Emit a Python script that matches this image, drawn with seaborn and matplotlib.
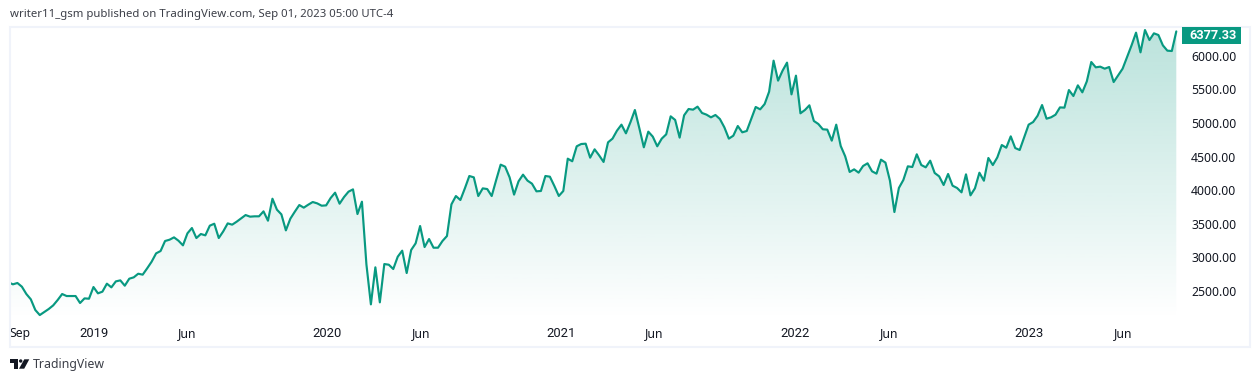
import numpy as np
import pandas as pd
import matplotlib
matplotlib.use("Agg")
import matplotlib.pyplot as plt
import matplotlib.dates as mdates
from matplotlib.patches import Rectangle, Polygon, Circle
import seaborn as sns

closes_2018_2019 = [
    2644, 2614, 2634, 2579, 2470, 2391, 2232, 2157, 2202, 2247, 2301, 2381, 2470, 2440, 2440, 2440,
    2336, 2405, 2400, 2574, 2480, 2505, 2624, 2569, 2658, 2673, 2594, 2698, 2718, 2772, 2758, 2852,
    2951, 3075, 3110, 3259, 3278, 3313, 3263, 3194, 3373, 3452, 3303, 3363, 3343, 3487, 3516, 3303,
    3402, 3521, 3502, 3546, 3596, 3645, 3621, 3626, 3626, 3700, 3561, 3888, 3725, 3655, 3417, 3591,
    3695, 3794, 3755, 3799, 3839, 3819, 3784, 3789, 3898, 3978, 3814, 3913, 3993, 4027,
]
closes_2020_2021 = [
    3660, 3844, 2911, 2316, 2867, 2346, 2916, 2906, 2842, 3025, 3115, 2782, 3125, 3224, 3482, 3169,
    3288, 3159, 3159, 3259, 3333, 3804, 3928, 3869, 4042, 4226, 4206, 3928, 4042, 4032, 3928, 4166,
    4395, 4365, 4206, 3949, 4147, 4246, 4157, 4112, 3998, 4003, 4226, 4216, 4078, 3929, 4003, 4484,
    4445, 4668, 4702, 4707, 4499, 4623, 4534, 4435, 4727, 4782, 4901, 4990, 4861, 5025, 5208, 4936,
    4653, 4886, 4812, 4668, 4782, 4846, 5114, 5060, 4797, 5129, 5223, 5213, 5258, 5164, 5139, 5099,
    5134,
]
closes_2021_2022 = [
    5074, 4950, 4782, 4826, 4970, 4876, 4896, 5074, 5253, 5218, 5297, 5481, 5942, 5645, 5793, 5913,
    5441, 5719, 5159, 5208, 5278, 5045, 5000, 4921, 4916, 4752, 4990, 4673, 4519, 4286, 4325, 4276,
    4375, 4415, 4296, 4261, 4469, 4425, 4157, 3690, 4048, 4167, 4370, 4360, 4549, 4390, 4355, 4454,
    4271, 4221, 4092, 4256, 4082, 4048, 3983, 4251, 3938, 4043,
]
closes_2022_2023 = [
    4275, 4156, 4494, 4389, 4503, 4687, 4647, 4816, 4642, 4613, 4801, 4990, 5029, 5123, 5282, 5079,
    5099, 5138, 5247, 5243, 5505, 5416, 5575, 5471, 5634, 5922, 5843, 5853, 5823, 5848, 5624, 5724,
    5823, 5996, 6170, 6359, 6066, 6398, 6249, 6349, 6324, 6170, 6091, 6086, 6377.33,
]
closes = closes_2018_2019 + closes_2020_2021 + closes_2021_2022 + closes_2022_2023

price_ticks = [2500, 3000, 3500, 4000, 4500, 5000, 5500, 6000]
time_dates = ["2018-09-18", "2019-01-12", "2019-06-06", "2020-01-11", "2020-06-06",
              "2021-01-11", "2021-06-06", "2022-01-12", "2022-06-09", "2023-01-14", "2023-06-10"]
time_labels = ["Sep", "2019", "Jun", "2020", "Jun", "2021", "Jun", "2022", "Jun", "2023", "Jun"]

W, H = 1260, 382
GREEN = "#089981"
FONT = "Noto Sans"

dates = pd.date_range(end="2023-09-01", periods=len(closes), freq="7D")
df = pd.DataFrame({"date": dates, "close": closes})

sns.set_style("white")
plt.rcParams["font.family"] = [FONT, "DejaVu Sans"]

fig = plt.figure(figsize=(W / 100, H / 100), dpi=100, facecolor="white")
# plot area in pixels: x 10.6-1180, y 27.5-320
ax = fig.add_axes([10.6 / W, 1 - 320 / H, (1180 - 10.6) / W, (320 - 27.5) / H])

sns.lineplot(data=df, x="date", y="close", color=GREEN, linewidth=1.55, ax=ax, zorder=3)

days_per_px = 7 / 4.4745
last = mdates.date2num(dates[-1])
x0 = last - (1176.3 - 10.6) * days_per_px
x1 = last + (1180 - 1176.3) * days_per_px
y0 = 2500 + (292 - 320) * 14.88
y1 = 2500 + (292 - 27.5) * 14.88

# vertical fade under the line
grad = np.zeros((256, 1, 4))
grad[..., :3] = matplotlib.colors.to_rgb(GREEN)
grad[..., 3] = np.linspace(0.28, 0.0, 256)[:, None]
im = ax.imshow(grad, extent=[x0, x1, y0, y1], origin="upper", aspect="auto", zorder=1)
area = ax.fill_between(mdates.date2num(dates), closes, y0, color="none", linewidth=0)
im.set_clip_path(area.get_paths()[0], transform=ax.transData)

ax.set_xlim(x0, x1)
ax.set_ylim(y0, y1)
ax.set_xlabel("")
ax.set_ylabel("")
for s in ax.spines.values():
    s.set_visible(False)
ax.patch.set_alpha(0)

ax.yaxis.tick_right()
ax.set_yticks(price_ticks)
ax.set_yticklabels([f"{p:.2f}" for p in price_ticks])
ax.tick_params(axis="y", length=0, pad=8, labelsize=8.8, labelcolor="#131722")
up = matplotlib.transforms.ScaledTranslation(0, 1 / 100, fig.dpi_scale_trans)
for lab in ax.get_yticklabels():
    lab.set_transform(lab.get_transform() + up)

ax.set_xticks(mdates.date2num(pd.to_datetime(time_dates)))
ax.set_xticklabels(time_labels)
ax.tick_params(axis="x", length=0, pad=5, labelsize=8.8, labelcolor="#131722")
for lab in ax.get_xticklabels():
    if lab.get_text().isdigit():
        lab.set_family("Roboto")
        lab.set_fontsize(9.4)

# overlay in pixel coords, y going down
px = matplotlib.transforms.Affine2D().scale(1, -1).translate(0, H)
fig.add_artist(Rectangle((10, 26.8), 1240, 320, fill=False, ec="#F0F3FA", lw=1.5, transform=px))
fig.add_artist(Rectangle((1182, 27), 59, 17, fc=GREEN, ec="none", transform=px))
fig.text(1212.5 / W, 1 - 35.5 / H, "6377.33", color="white", fontsize=9.2, fontweight="bold",
         family="Roboto", ha="center", va="center")
fig.text(10 / W, 1 - 14.5 / H, "writer11_gsm published on TradingView.com, Sep 01, 2023 05:00 UTC-4",
         color="#3c3f48", fontsize=8.2, ha="left", va="center")
fig.text(33 / W, 1 - 364.5 / H, "TradingView", color="#3c3f48", fontsize=8.85, ha="left", va="center")

# logo
for pts in ([(10, 359.3), (18.3, 359.3), (18.3, 368.7), (14, 368.7), (14, 362.7), (10, 362.7)],
            [(24.3, 359.3), (29.3, 359.3), (24.2, 368.7), (19, 368.7)]):
    fig.add_artist(Polygon(pts, closed=True, fc="#131722", ec="none", transform=px))
fig.add_artist(Circle((20.7, 361), 1.7, fc="#131722", ec="none", transform=px))

fig.savefig("out.png", dpi=100)
